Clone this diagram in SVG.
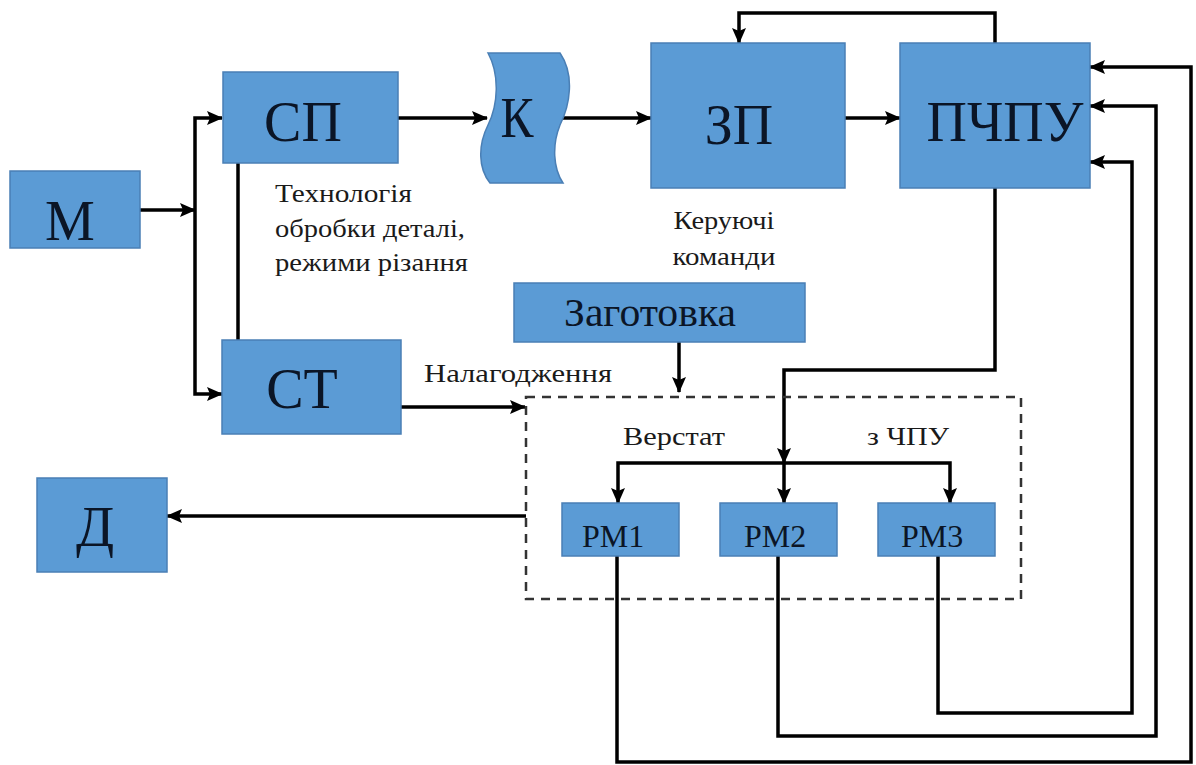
<svg xmlns="http://www.w3.org/2000/svg" width="1196" height="765" viewBox="0 0 1196 765">
<style>
.box{fill:#5b9bd5;stroke:#4a7fb5;stroke-width:1.5}
text{font-family:'Liberation Serif','DejaVu Serif',serif;fill:#0b1526}
.big{font-size:56px;text-anchor:middle}
.mid{font-size:40px;text-anchor:middle}
.rm{font-size:32px;text-anchor:middle}
.lbl{font-size:26px;fill:#1a1a1a}
.ln{fill:none;stroke:#000;stroke-width:3.5}
.arr{marker-end:url(#ah)}
.dash{fill:none;stroke:#333;stroke-width:2.5;stroke-dasharray:9 7}
</style>
<defs>
<marker id="ah" markerUnits="userSpaceOnUse" markerWidth="16" markerHeight="14" refX="15" refY="7" orient="auto">
<path d="M0,0 L16,7 L0,14 L3,7 z" fill="#000"/>
</marker>
</defs>
<rect width="1196" height="765" fill="#fff"/>

<g id="connectors">
<path class="ln arr" d="M140 210 H195"/>
<path class="ln arr" d="M195 210 V118 H222"/>
<path class="ln arr" d="M195 210 V394 H222"/>
<path class="ln" d="M238 163 V340"/>
<path class="ln arr" d="M398 118 H487"/>
<path class="ln arr" d="M563 118 H651"/>
<path class="ln arr" d="M845 118 H900"/>
<path class="ln arr" d="M995 43 V13 H739 V43"/>
<path class="ln arr" d="M995 188 V370 H784 V463"/>
<path class="ln arr" d="M784 463 V503"/>
<path class="ln arr" d="M784 463 H618 V503"/>
<path class="ln arr" d="M784 463 H950 V503"/>
<path class="ln arr" d="M679 342 V392"/>
<path class="ln arr" d="M401 407 H525"/>
<path class="ln arr" d="M526 516 H167"/>
<path class="ln arr" d="M617 556 V762 H1191 V67 H1090"/>
<path class="ln arr" d="M778 556 V736 H1156 V106 H1090"/>
<path class="ln arr" d="M938 556 V713 H1132 V162 H1090"/>
</g>

<g id="n-m"><rect class="box" x="10" y="171" width="130" height="77"/><text class="big" x="70" y="240">М</text></g>
<g id="n-sp"><rect class="box" x="223" y="72" width="175" height="91"/><text class="big" x="303" y="141">СП</text></g>
<g id="n-k"><path class="box" d="M488 53 L560 53 C575 75 570 105 560 125 C552 145 553 168 563 183 L490 183 C478 168 478 145 488 125 C498 105 500 75 488 53 Z"/><text class="big" x="517" y="137" font-size="48" textLength="33" lengthAdjust="spacingAndGlyphs">К</text></g>
<g id="n-zp"><rect class="box" x="651" y="43" width="194" height="145"/><text class="big" x="739" y="144">ЗП</text></g>
<g id="n-pchpu"><rect class="box" x="900" y="43" width="190" height="145"/><text class="big" x="1005" y="141">ПЧПУ</text></g>
<g id="n-zag"><rect class="box" x="514" y="283" width="291" height="59"/><text class="mid" x="650" y="326" textLength="172" lengthAdjust="spacingAndGlyphs">Заготовка</text></g>
<g id="n-st"><rect class="box" x="222" y="340" width="179" height="94"/><text class="big" x="302" y="408">СТ</text></g>
<g id="n-d"><rect class="box" x="37" y="478" width="130" height="94"/><text class="big" x="95" y="546">Д</text></g>
<g id="n-verstat"><rect class="dash" x="526" y="397" width="495" height="202"/>
<text class="lbl" x="674" y="445" font-size="28" text-anchor="middle" textLength="102" lengthAdjust="spacingAndGlyphs">Верстат</text>
<text class="lbl" x="908" y="445" font-size="28" text-anchor="middle" textLength="82" lengthAdjust="spacingAndGlyphs">з ЧПУ</text></g>
<g id="n-rm1"><rect class="box" x="562" y="503" width="117" height="53"/><text class="rm" x="613" y="547">РМ1</text></g>
<g id="n-rm2"><rect class="box" x="720" y="503" width="117" height="53"/><text class="rm" x="775" y="547">РМ2</text></g>
<g id="n-rm3"><rect class="box" x="878" y="503" width="117" height="53"/><text class="rm" x="932" y="547">РМ3</text></g>

<g id="labels">
<text class="lbl" x="275" y="202" textLength="137" lengthAdjust="spacingAndGlyphs">Технологія</text>
<text class="lbl" x="275" y="237" textLength="190" lengthAdjust="spacingAndGlyphs">обробки деталі,</text>
<text class="lbl" x="275" y="271" textLength="193" lengthAdjust="spacingAndGlyphs">режими різання</text>
<text class="lbl" x="724" y="229" text-anchor="middle" textLength="101" lengthAdjust="spacingAndGlyphs">Керуючі</text>
<text class="lbl" x="724" y="265" text-anchor="middle" textLength="103" lengthAdjust="spacingAndGlyphs">команди</text>
<text class="lbl" x="424" y="382" font-size="28" textLength="188" lengthAdjust="spacingAndGlyphs">Налагодження</text>
</g>
</svg>
